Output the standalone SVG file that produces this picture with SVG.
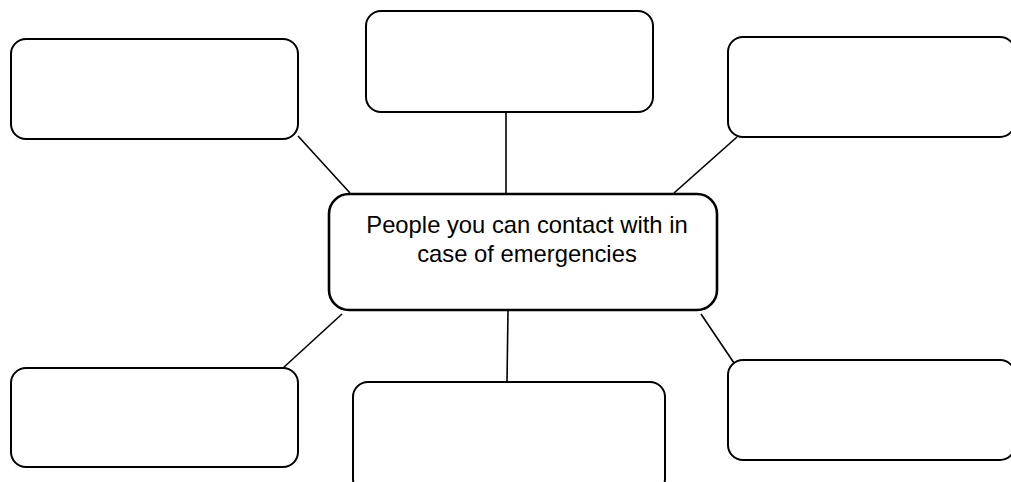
<svg xmlns="http://www.w3.org/2000/svg" width="1011" height="482" viewBox="0 0 1011 482">
<style>
.box{fill:#fff;stroke:#000;stroke-width:2}
.center{fill:#fff;stroke:#000;stroke-width:2.6}
.conn{stroke:#000;stroke-width:1.6;fill:none}
.label{font-family:"Liberation Sans",Arial,sans-serif;font-size:23.8px;fill:#000;text-anchor:middle}
</style>
<rect width="1011" height="482" fill="#fff"/>
<g id="connectors">
<line class="conn" x1="298" y1="136" x2="350" y2="193"/>
<line class="conn" x1="506" y1="112" x2="506" y2="194"/>
<line class="conn" x1="737" y1="137" x2="674" y2="193"/>
<line class="conn" x1="283" y1="368" x2="342" y2="314"/>
<line class="conn" x1="508" y1="310" x2="507" y2="382"/>
<line class="conn" x1="701" y1="314" x2="734" y2="363"/>
</g>
<g id="node-top-left"><rect class="box" x="11" y="39" width="287" height="100" rx="15"/></g>
<g id="node-top-center"><rect class="box" x="366" y="11" width="287" height="101" rx="15"/></g>
<g id="node-top-right"><rect class="box" x="728" y="37" width="287" height="100" rx="15"/></g>
<g id="node-center">
<rect class="center" x="329" y="194" width="388" height="116" rx="20"/>
<text class="label" x="527" y="233">People you can contact with in</text>
<text class="label" x="527" y="262">case of emergencies</text>
</g>
<g id="node-bottom-left"><rect class="box" x="11" y="368" width="287" height="99" rx="15"/></g>
<g id="node-bottom-center"><rect class="box" x="353" y="382" width="312" height="112" rx="15"/></g>
<g id="node-bottom-right"><rect class="box" x="728" y="360" width="287" height="100" rx="15"/></g>
</svg>
